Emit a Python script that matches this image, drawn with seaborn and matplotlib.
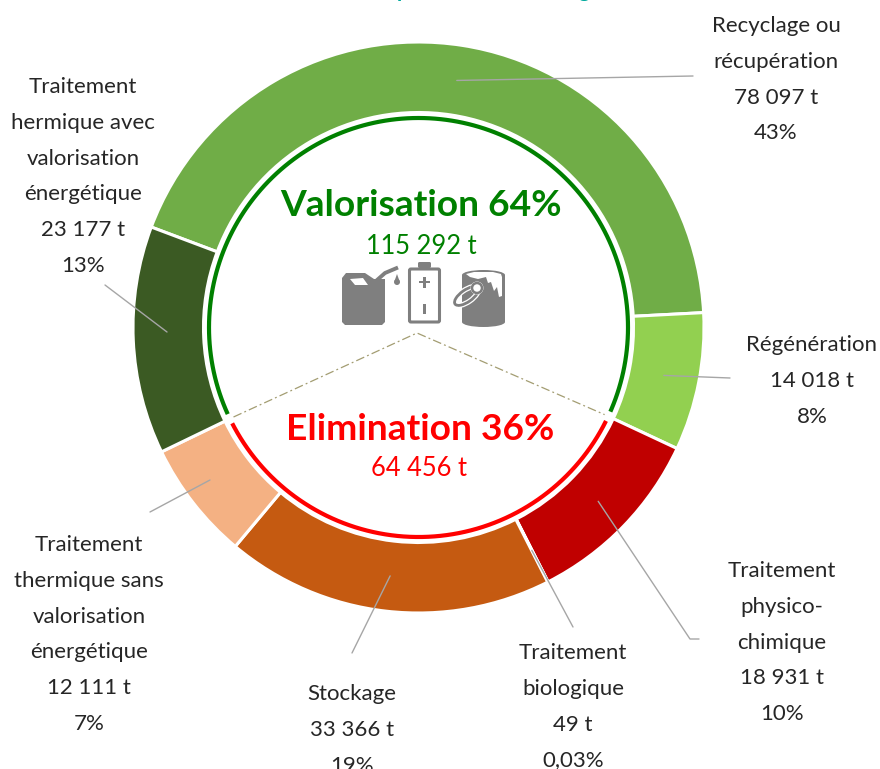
import numpy as np
import matplotlib
matplotlib.use("Agg")
import matplotlib.pyplot as plt
from matplotlib.patches import Polygon, FancyBboxPatch, Ellipse, Circle, Rectangle
import seaborn as sns

# ---------- data ----------
tonnages = [78097, 14018, 18931, 49, 33366, 12111, 23177]
ring_hex = ["#70AD47", "#92D050", "#C00000", "#C00000", "#C55A11", "#F4B183", "#3B5A23"]
labels = [
    ["Recyclage ou", "récupération", "78 097 t", "43%"],
    ["Régénération", "14 018 t", "8%"],
    ["Traitement", "physico-", "chimique", "18 931 t", "10%"],
    ["Traitement", "biologique", "49 t", "0,03%"],
    ["Stockage", "33 366 t", "19%"],
    ["Traitement", "thermique sans", "valorisation", "énergétique", "12 111 t", "7%"],
    ["Traitement", "hermique avec", "valorisation", "énergétique", "23 177 t", "13%"],
]
valo_title, valo_amount = "Valorisation 64%", "115 292 t"
elim_title, elim_amount = "Elimination 36%", "64 456 t"

# ---------- layout (pixels, y down) ----------
W, H = 880, 769
CX, CY, R, R_IN, R_ARC = 418.5, 327.5, 285.5, 215, 209.5
START = -69.4  # clockwise from north
label_xy = [(776, 24), (812, 343), (782, 569), (573, 651), (352, 692), (89, 543), (83, 85)]
leader_ends = [[(693, 76)], [(730, 378)], [(690, 639), (699, 639)], [(573, 627)],
               [(352, 653)], [(150, 512)], [(105, 285)]]
leader_start_fix = [None, None, None, None, None, (210, 480), (167, 332)]
PITCH = 35.8
GREY = "#7F7F7F"
LEADER = "#A6A6A6"

sns.set_theme(style="white")
plt.rcParams["font.family"] = ["Lato", "DejaVu Sans"]

fig = plt.figure(figsize=(W / 100, H / 100), dpi=100)
ax = fig.add_axes([0, 0, 1, 1])
Y = lambda y: H - y


def polar(theta, r):
    a = np.radians(theta)
    return CX + r * np.sin(a), CY - r * np.cos(a)


palette = sns.color_palette(ring_hex)
ax.pie(tonnages, colors=palette, startangle=90 - START, counterclock=False,
       center=(CX, Y(CY)), radius=R, frame=True,
       wedgeprops=dict(width=R - R_IN, edgecolor="white", linewidth=2.2))
ax.set_xlim(0, W)
ax.set_ylim(0, H)
ax.set_aspect("equal")
ax.axis("off")

# leader lines and labels
edges = START + np.concatenate([[0], np.cumsum(tonnages)]) / np.sum(tonnages) * 360
for i, lines in enumerate(labels):
    mid = (edges[i] + edges[i + 1]) / 2
    p0 = leader_start_fix[i] or polar(mid, 250)
    pts = [p0] + leader_ends[i]
    ax.plot([p[0] for p in pts], [Y(p[1]) for p in pts], color=LEADER, lw=1.0, zorder=3)
    x, y0 = label_xy[i]
    for j, line in enumerate(lines):
        ax.text(x, Y(y0 + j * PITCH + 8), line, ha="center", va="baseline",
                fontsize=16, color="#262626", clip_on=False)

# inner arcs: split by the two treatment families
split_a = edges[2]  # end of valorisation (after Régénération)
split_b = edges[6]  # start of valorisation (before Traitement hermique)
GAP = 1.4
for c, t_from, t_to in [("#008000", split_b + GAP, split_a + 360 - GAP),
                        ("#FF0000", split_a + GAP, split_b - GAP)]:
    ts = np.linspace(t_from, t_to, 300)
    xy = np.array([polar(t, R_ARC) for t in ts])
    ax.plot(xy[:, 0], Y(xy[:, 1]), color=c, lw=3.0, solid_capstyle="butt", zorder=4)

# dashed roof
pa, pb = polar(split_b, R_ARC - 4), polar(split_a, R_ARC - 4)
ax.plot([pa[0], 417, pb[0]], [Y(pa[1]), Y(333), Y(pb[1])], color="#A39D72", lw=0.9,
        ls=(0, (7, 2.5, 1.5, 2.5)), zorder=4)

# centre text
ax.text(420.5, Y(216), valo_title, ha="center", va="baseline", fontsize=26.7, fontweight="bold", color="#008000")
ax.text(421, Y(254), valo_amount, ha="center", va="baseline", fontsize=18.4, color="#008000")
ax.text(420, Y(440), elim_title, ha="center", va="baseline", fontsize=26.7, fontweight="bold", color="#FF0000")
ax.text(419, Y(476), elim_amount, ha="center", va="baseline", fontsize=18.4, color="#FF0000")

# clipped title descenders
ax.text(403, Y(-3), "p", ha="center", va="baseline", fontsize=15, fontweight="bold", color="#00A99D", clip_on=False)
ax.text(584, Y(-3), "g", ha="center", va="baseline", fontsize=15, fontweight="bold", color="#00A99D", clip_on=False)


# ---------- icons ----------
def P(points, **kw):
    ax.add_patch(Polygon([(x, Y(y)) for x, y in points], closed=True, lw=0, zorder=5, **kw))


# jerry can
P([(342, 278), (346, 273), (365, 273), (374, 279), (385, 279), (385, 322), (382, 325),
   (345, 325), (342, 322)], facecolor=GREY)
P([(350, 279), (363, 278), (368, 285), (355, 285)], facecolor="white")
ax.plot([376, 385, 398], [Y(281), Y(273), Y(267.5)], color=GREY, lw=2.8, solid_capstyle="butt", zorder=5)
ax.add_patch(Circle((397, Y(282)), 3, fc=GREY, lw=0, zorder=5))
P([(397, 274), (394.5, 281), (399.5, 281)], facecolor=GREY)

# battery
ax.add_patch(FancyBboxPatch((409.5, Y(322)), 30, 53, boxstyle="round,pad=0,rounding_size=1.5",
                            fc="white", ec=GREY, lw=2.2, zorder=5))
ax.add_patch(FancyBboxPatch((418, Y(268)), 13, 6, boxstyle="round,pad=0,rounding_size=1.5",
                            fc=GREY, lw=0, zorder=5))
ax.add_patch(Rectangle((419, Y(283)), 11, 2.5, fc=GREY, lw=0, zorder=6))
ax.add_patch(Rectangle((423, Y(288)), 2.5, 11, fc=GREY, lw=0, zorder=6))
ax.add_patch(Rectangle((423, Y(314)), 2.8, 10, fc=GREY, lw=0, zorder=6))

# paint can
ax.add_patch(Ellipse((483.5, Y(322)), 43, 10, fc=GREY, lw=0, zorder=5))
ax.add_patch(Rectangle((462, Y(322)), 43, 47, fc=GREY, lw=0, zorder=5))
ax.add_patch(Ellipse((483.5, Y(275)), 43, 10, fc=GREY, lw=0, zorder=5))
P([(466, 274), (474, 272), (493, 272), (501, 274), (502, 277), (502, 296), (499, 297), (497, 287),
   (494, 291), (491, 282), (488, 283), (486, 277), (478, 279), (470, 277)], facecolor="white")
ax.add_patch(Ellipse((466.5, Y(296)), 28, 12, angle=35, fc="none", ec="white", lw=3.8, zorder=6))
ax.add_patch(Ellipse((466.5, Y(296)), 28, 12, angle=35, fc="none", ec=GREY, lw=2.0, zorder=7))
ax.add_patch(Circle((477, Y(288)), 6.5, fc="white", lw=0, zorder=8))
ax.add_patch(Circle((477, Y(288)), 5, fc="none", ec=GREY, lw=1.8, zorder=9))

fig.savefig("out.png", dpi=100, facecolor="white")
